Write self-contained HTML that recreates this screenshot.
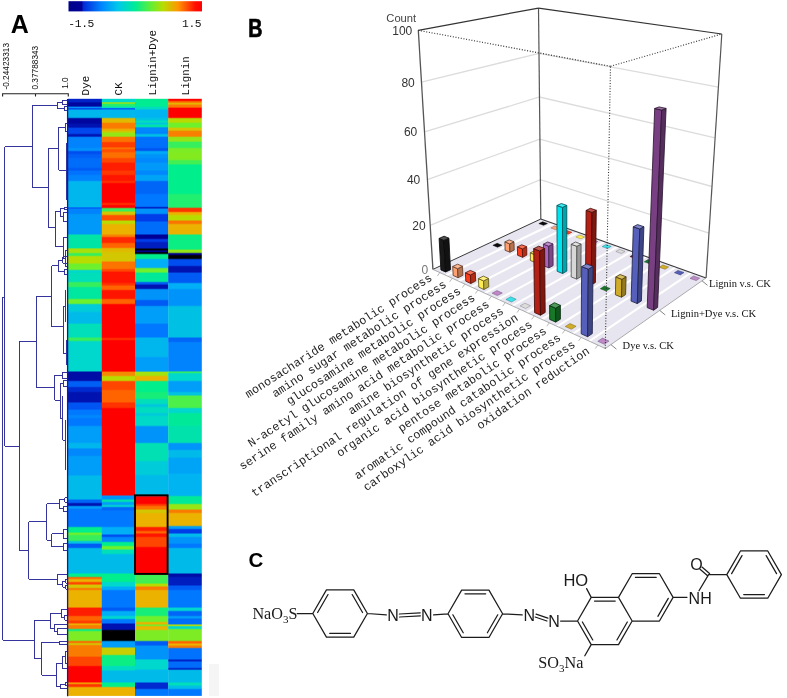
<!DOCTYPE html><html><head><meta charset="utf-8"><title>Figure</title><style>html,body{margin:0;padding:0;background:#fff}svg{display:block}</style></head><body><svg width="787" height="698" viewBox="0 0 787 698"><defs><linearGradient id="hg0" gradientUnits="userSpaceOnUse" x1="0" y1="98.8" x2="0" y2="695.9"><stop offset="0.00167" stop-color="#0024c7"/><stop offset="0.00452" stop-color="#0024c7"/><stop offset="0.00720" stop-color="#00069e"/><stop offset="0.01206" stop-color="#00069e"/><stop offset="0.01424" stop-color="#0094fa"/><stop offset="0.01457" stop-color="#0094fa"/><stop offset="0.01645" stop-color="#0048ed"/><stop offset="0.01687" stop-color="#0048ed"/><stop offset="0.01926" stop-color="#00b7ed"/><stop offset="0.03082" stop-color="#00b7ed"/><stop offset="0.03350" stop-color="#00069e"/><stop offset="0.04036" stop-color="#00069e"/><stop offset="0.04304" stop-color="#0012af"/><stop offset="0.04706" stop-color="#0012af"/><stop offset="0.04974" stop-color="#0048ed"/><stop offset="0.05761" stop-color="#0048ed"/><stop offset="0.06029" stop-color="#0015b3"/><stop offset="0.06230" stop-color="#0015b3"/><stop offset="0.06498" stop-color="#0083fd"/><stop offset="0.08106" stop-color="#0083fd"/><stop offset="0.08374" stop-color="#0094fa"/><stop offset="0.08608" stop-color="#0094fa"/><stop offset="0.08876" stop-color="#004eef"/><stop offset="0.09127" stop-color="#004eef"/><stop offset="0.09395" stop-color="#0060f6"/><stop offset="0.09781" stop-color="#0060f6"/><stop offset="0.10049" stop-color="#006cfa"/><stop offset="0.11455" stop-color="#006cfa"/><stop offset="0.11723" stop-color="#005af4"/><stop offset="0.11891" stop-color="#005af4"/><stop offset="0.12159" stop-color="#0072fd"/><stop offset="0.12628" stop-color="#0072fd"/><stop offset="0.12896" stop-color="#0083fd"/><stop offset="0.13633" stop-color="#0083fd"/><stop offset="0.13901" stop-color="#00b7ed"/><stop offset="0.18071" stop-color="#00b7ed"/><stop offset="0.18274" stop-color="#005af4"/><stop offset="0.18302" stop-color="#005af4"/><stop offset="0.18506" stop-color="#0083fd"/><stop offset="0.19159" stop-color="#0083fd"/><stop offset="0.19427" stop-color="#0099f9"/><stop offset="0.22593" stop-color="#0099f9"/><stop offset="0.22860" stop-color="#00e5a6"/><stop offset="0.24904" stop-color="#00e5a6"/><stop offset="0.25172" stop-color="#aae009"/><stop offset="0.25691" stop-color="#aae009"/><stop offset="0.25959" stop-color="#37ef5c"/><stop offset="0.26193" stop-color="#37ef5c"/><stop offset="0.26461" stop-color="#b9dc00"/><stop offset="0.27449" stop-color="#b9dc00"/><stop offset="0.27717" stop-color="#6ef02d"/><stop offset="0.28538" stop-color="#6ef02d"/><stop offset="0.28806" stop-color="#00d7cd"/><stop offset="0.28973" stop-color="#00d7cd"/><stop offset="0.29241" stop-color="#00deba"/><stop offset="0.30548" stop-color="#00deba"/><stop offset="0.30816" stop-color="#37ef5c"/><stop offset="0.31385" stop-color="#37ef5c"/><stop offset="0.31653" stop-color="#00e7a0"/><stop offset="0.33395" stop-color="#00e7a0"/><stop offset="0.33663" stop-color="#6ef02d"/><stop offset="0.34232" stop-color="#6ef02d"/><stop offset="0.34500" stop-color="#00cbd9"/><stop offset="0.35572" stop-color="#00cbd9"/><stop offset="0.35840" stop-color="#00bbe9"/><stop offset="0.37531" stop-color="#00bbe9"/><stop offset="0.37799" stop-color="#00deba"/><stop offset="0.39843" stop-color="#00deba"/><stop offset="0.40111" stop-color="#37ef5c"/><stop offset="0.40429" stop-color="#37ef5c"/><stop offset="0.40697" stop-color="#00d7cd"/><stop offset="0.45537" stop-color="#00d7cd"/><stop offset="0.45805" stop-color="#000ca6"/><stop offset="0.47128" stop-color="#000ca6"/><stop offset="0.47396" stop-color="#0060f6"/><stop offset="0.48133" stop-color="#0060f6"/><stop offset="0.48401" stop-color="#002acf"/><stop offset="0.48970" stop-color="#002acf"/><stop offset="0.49238" stop-color="#0012af"/><stop offset="0.50712" stop-color="#0012af"/><stop offset="0.50980" stop-color="#0054f1"/><stop offset="0.51934" stop-color="#0054f1"/><stop offset="0.52202" stop-color="#0078ff"/><stop offset="0.52822" stop-color="#0078ff"/><stop offset="0.53090" stop-color="#0088fc"/><stop offset="0.53324" stop-color="#0088fc"/><stop offset="0.53592" stop-color="#0078ff"/><stop offset="0.54664" stop-color="#0078ff"/><stop offset="0.54932" stop-color="#009ef8"/><stop offset="0.57511" stop-color="#009ef8"/><stop offset="0.57779" stop-color="#00b7ed"/><stop offset="0.58416" stop-color="#00b7ed"/><stop offset="0.58684" stop-color="#0088fc"/><stop offset="0.59688" stop-color="#0088fc"/><stop offset="0.59956" stop-color="#009ef8"/><stop offset="0.62954" stop-color="#009ef8"/><stop offset="0.63222" stop-color="#00bbe9"/><stop offset="0.66974" stop-color="#00bbe9"/><stop offset="0.67242" stop-color="#0066f8"/><stop offset="0.67560" stop-color="#0066f8"/><stop offset="0.67828" stop-color="#0012af"/><stop offset="0.68062" stop-color="#0012af"/><stop offset="0.68330" stop-color="#009ef8"/><stop offset="0.68514" stop-color="#009ef8"/><stop offset="0.68782" stop-color="#0078ff"/><stop offset="0.71579" stop-color="#0078ff"/><stop offset="0.71847" stop-color="#00ee8c"/><stop offset="0.72517" stop-color="#00ee8c"/><stop offset="0.72785" stop-color="#6ef02d"/><stop offset="0.72919" stop-color="#6ef02d"/><stop offset="0.73187" stop-color="#37ef5c"/><stop offset="0.73924" stop-color="#37ef5c"/><stop offset="0.74192" stop-color="#00c3e1"/><stop offset="0.74376" stop-color="#00c3e1"/><stop offset="0.74644" stop-color="#005af4"/><stop offset="0.75096" stop-color="#005af4"/><stop offset="0.75364" stop-color="#00bbe9"/><stop offset="0.79367" stop-color="#00bbe9"/><stop offset="0.79635" stop-color="#00ee8c"/><stop offset="0.79953" stop-color="#00ee8c"/><stop offset="0.80221" stop-color="#ff6400"/><stop offset="0.80288" stop-color="#ff6400"/><stop offset="0.80556" stop-color="#ebb200"/><stop offset="0.80790" stop-color="#ebb200"/><stop offset="0.81058" stop-color="#ff4600"/><stop offset="0.81226" stop-color="#ff4600"/><stop offset="0.81494" stop-color="#d2c700"/><stop offset="0.81795" stop-color="#d2c700"/><stop offset="0.82063" stop-color="#fb7400"/><stop offset="0.82130" stop-color="#fb7400"/><stop offset="0.82398" stop-color="#ebb200"/><stop offset="0.85078" stop-color="#ebb200"/><stop offset="0.85346" stop-color="#ff1e00"/><stop offset="0.86485" stop-color="#ff1e00"/><stop offset="0.86753" stop-color="#ff6400"/><stop offset="0.87238" stop-color="#ff6400"/><stop offset="0.87506" stop-color="#ff3c00"/><stop offset="0.87741" stop-color="#ff3c00"/><stop offset="0.87979" stop-color="#ebb200"/><stop offset="0.88021" stop-color="#ebb200"/><stop offset="0.88260" stop-color="#f97b00"/><stop offset="0.88662" stop-color="#f97b00"/><stop offset="0.88930" stop-color="#00ee8c"/><stop offset="0.88997" stop-color="#00ee8c"/><stop offset="0.89265" stop-color="#7dec24"/><stop offset="0.90672" stop-color="#7dec24"/><stop offset="0.90940" stop-color="#ff6400"/><stop offset="0.91007" stop-color="#ff6400"/><stop offset="0.91274" stop-color="#d2c700"/><stop offset="0.91341" stop-color="#d2c700"/><stop offset="0.91609" stop-color="#f97b00"/><stop offset="0.93301" stop-color="#f97b00"/><stop offset="0.93569" stop-color="#ff4600"/><stop offset="0.94858" stop-color="#ff4600"/><stop offset="0.95126" stop-color="#ff0000"/><stop offset="0.97622" stop-color="#ff0000"/><stop offset="0.97860" stop-color="#efa200"/><stop offset="0.97902" stop-color="#efa200"/><stop offset="0.98141" stop-color="#ff3200"/><stop offset="0.98375" stop-color="#ff3200"/><stop offset="0.98643" stop-color="#ebb200"/><stop offset="0.99933" stop-color="#ebb200"/></linearGradient><linearGradient id="hg1" gradientUnits="userSpaceOnUse" x1="0" y1="98.8" x2="0" y2="695.9"><stop offset="0.00167" stop-color="#00d7cd"/><stop offset="0.00452" stop-color="#00d7cd"/><stop offset="0.00684" stop-color="#a2e20d"/><stop offset="0.00723" stop-color="#a2e20d"/><stop offset="0.00955" stop-color="#21ef70"/><stop offset="0.01206" stop-color="#21ef70"/><stop offset="0.01424" stop-color="#00dcc0"/><stop offset="0.01457" stop-color="#00dcc0"/><stop offset="0.01645" stop-color="#005af4"/><stop offset="0.01687" stop-color="#005af4"/><stop offset="0.01926" stop-color="#00b7ed"/><stop offset="0.03082" stop-color="#00b7ed"/><stop offset="0.03350" stop-color="#e1ba00"/><stop offset="0.03885" stop-color="#e1ba00"/><stop offset="0.04153" stop-color="#f97b00"/><stop offset="0.04857" stop-color="#f97b00"/><stop offset="0.05125" stop-color="#edaa00"/><stop offset="0.05225" stop-color="#edaa00"/><stop offset="0.05485" stop-color="#cdcb00"/><stop offset="0.05535" stop-color="#cdcb00"/><stop offset="0.05795" stop-color="#94e616"/><stop offset="0.06230" stop-color="#94e616"/><stop offset="0.06498" stop-color="#fb7400"/><stop offset="0.07101" stop-color="#fb7400"/><stop offset="0.07369" stop-color="#ff3c00"/><stop offset="0.08022" stop-color="#ff3c00"/><stop offset="0.08261" stop-color="#fb7400"/><stop offset="0.08303" stop-color="#fb7400"/><stop offset="0.08541" stop-color="#ff5000"/><stop offset="0.08826" stop-color="#ff5000"/><stop offset="0.09094" stop-color="#fc7000"/><stop offset="0.09781" stop-color="#fc7000"/><stop offset="0.10049" stop-color="#ff4600"/><stop offset="0.10551" stop-color="#ff4600"/><stop offset="0.10819" stop-color="#ff1e00"/><stop offset="0.11891" stop-color="#ff1e00"/><stop offset="0.12159" stop-color="#ff3700"/><stop offset="0.12628" stop-color="#ff3700"/><stop offset="0.12896" stop-color="#ff1400"/><stop offset="0.13633" stop-color="#ff1400"/><stop offset="0.13901" stop-color="#ff3200"/><stop offset="0.13968" stop-color="#ff3200"/><stop offset="0.14235" stop-color="#ff0000"/><stop offset="0.17317" stop-color="#ff0000"/><stop offset="0.17585" stop-color="#ff3200"/><stop offset="0.17652" stop-color="#ff3200"/><stop offset="0.17920" stop-color="#ff0000"/><stop offset="0.18154" stop-color="#ff0000"/><stop offset="0.18422" stop-color="#37ef5c"/><stop offset="0.18741" stop-color="#37ef5c"/><stop offset="0.19009" stop-color="#d2c700"/><stop offset="0.19327" stop-color="#d2c700"/><stop offset="0.19595" stop-color="#ff5000"/><stop offset="0.20248" stop-color="#ff5000"/><stop offset="0.20516" stop-color="#b9dc00"/><stop offset="0.20834" stop-color="#b9dc00"/><stop offset="0.21102" stop-color="#ebb200"/><stop offset="0.22593" stop-color="#ebb200"/><stop offset="0.22860" stop-color="#f78300"/><stop offset="0.23011" stop-color="#f78300"/><stop offset="0.23279" stop-color="#ff2800"/><stop offset="0.24016" stop-color="#ff2800"/><stop offset="0.24284" stop-color="#ff6400"/><stop offset="0.24853" stop-color="#ff6400"/><stop offset="0.25121" stop-color="#e1ba00"/><stop offset="0.25523" stop-color="#e1ba00"/><stop offset="0.25791" stop-color="#d2c700"/><stop offset="0.27114" stop-color="#d2c700"/><stop offset="0.27382" stop-color="#fb7400"/><stop offset="0.28370" stop-color="#fb7400"/><stop offset="0.28638" stop-color="#ff4600"/><stop offset="0.28823" stop-color="#ff4600"/><stop offset="0.29091" stop-color="#ff1400"/><stop offset="0.30715" stop-color="#ff1400"/><stop offset="0.30983" stop-color="#ff3200"/><stop offset="0.31134" stop-color="#ff3200"/><stop offset="0.31402" stop-color="#ff6400"/><stop offset="0.31887" stop-color="#ff6400"/><stop offset="0.32155" stop-color="#ff1400"/><stop offset="0.33395" stop-color="#ff1400"/><stop offset="0.33663" stop-color="#ff6400"/><stop offset="0.34232" stop-color="#ff6400"/><stop offset="0.34500" stop-color="#ff0000"/><stop offset="0.39926" stop-color="#ff0000"/><stop offset="0.40194" stop-color="#ff3200"/><stop offset="0.40261" stop-color="#ff3200"/><stop offset="0.40529" stop-color="#ff0000"/><stop offset="0.45570" stop-color="#ff0000"/><stop offset="0.45838" stop-color="#f58b00"/><stop offset="0.46290" stop-color="#f58b00"/><stop offset="0.46558" stop-color="#b9dc00"/><stop offset="0.47128" stop-color="#b9dc00"/><stop offset="0.47396" stop-color="#ff4600"/><stop offset="0.48635" stop-color="#ff4600"/><stop offset="0.48903" stop-color="#ff6400"/><stop offset="0.50712" stop-color="#ff6400"/><stop offset="0.50980" stop-color="#ff3200"/><stop offset="0.51650" stop-color="#ff3200"/><stop offset="0.51918" stop-color="#ff0000"/><stop offset="0.66304" stop-color="#ff0000"/><stop offset="0.66572" stop-color="#0094fa"/><stop offset="0.66974" stop-color="#0094fa"/><stop offset="0.67242" stop-color="#00e2ac"/><stop offset="0.67392" stop-color="#00e2ac"/><stop offset="0.67660" stop-color="#009ef8"/><stop offset="0.67895" stop-color="#009ef8"/><stop offset="0.68163" stop-color="#00d7cd"/><stop offset="0.68230" stop-color="#00d7cd"/><stop offset="0.68498" stop-color="#0066f8"/><stop offset="0.68816" stop-color="#0066f8"/><stop offset="0.69084" stop-color="#0078ff"/><stop offset="0.71579" stop-color="#0078ff"/><stop offset="0.71847" stop-color="#00aff5"/><stop offset="0.72835" stop-color="#00aff5"/><stop offset="0.73103" stop-color="#004eef"/><stop offset="0.73254" stop-color="#004eef"/><stop offset="0.73522" stop-color="#0088fc"/><stop offset="0.74091" stop-color="#0088fc"/><stop offset="0.74359" stop-color="#00ee8c"/><stop offset="0.74761" stop-color="#00ee8c"/><stop offset="0.75029" stop-color="#6ef02d"/><stop offset="0.75364" stop-color="#6ef02d"/><stop offset="0.75632" stop-color="#00deba"/><stop offset="0.76101" stop-color="#00deba"/><stop offset="0.76369" stop-color="#00bbe9"/><stop offset="0.79367" stop-color="#00bbe9"/><stop offset="0.79635" stop-color="#00ee8c"/><stop offset="0.80790" stop-color="#00ee8c"/><stop offset="0.81058" stop-color="#00d7cd"/><stop offset="0.81544" stop-color="#00d7cd"/><stop offset="0.81812" stop-color="#00aff5"/><stop offset="0.82130" stop-color="#00aff5"/><stop offset="0.82398" stop-color="#0078ff"/><stop offset="0.85078" stop-color="#0078ff"/><stop offset="0.85346" stop-color="#005af4"/><stop offset="0.85647" stop-color="#005af4"/><stop offset="0.85915" stop-color="#00aff5"/><stop offset="0.86485" stop-color="#00aff5"/><stop offset="0.86753" stop-color="#00d7cd"/><stop offset="0.86987" stop-color="#00d7cd"/><stop offset="0.87255" stop-color="#0078ff"/><stop offset="0.87741" stop-color="#0078ff"/><stop offset="0.88009" stop-color="#0012af"/><stop offset="0.88829" stop-color="#0012af"/><stop offset="0.89097" stop-color="#000000"/><stop offset="0.90672" stop-color="#000000"/><stop offset="0.90940" stop-color="#009ef8"/><stop offset="0.91760" stop-color="#009ef8"/><stop offset="0.92028" stop-color="#c8cf00"/><stop offset="0.93016" stop-color="#c8cf00"/><stop offset="0.93284" stop-color="#0bee83"/><stop offset="0.94858" stop-color="#0bee83"/><stop offset="0.95126" stop-color="#00dcc0"/><stop offset="0.95612" stop-color="#00dcc0"/><stop offset="0.95880" stop-color="#00bbe9"/><stop offset="0.97622" stop-color="#00bbe9"/><stop offset="0.97890" stop-color="#00ee8c"/><stop offset="0.98375" stop-color="#00ee8c"/><stop offset="0.98643" stop-color="#ebb200"/><stop offset="0.99933" stop-color="#ebb200"/></linearGradient><linearGradient id="hg2" gradientUnits="userSpaceOnUse" x1="0" y1="98.8" x2="0" y2="695.9"><stop offset="0.00167" stop-color="#00ec92"/><stop offset="0.01206" stop-color="#00ec92"/><stop offset="0.01474" stop-color="#00dcc0"/><stop offset="0.01658" stop-color="#00dcc0"/><stop offset="0.01926" stop-color="#00b3f1"/><stop offset="0.03082" stop-color="#00b3f1"/><stop offset="0.03350" stop-color="#00c3e1"/><stop offset="0.03517" stop-color="#00c3e1"/><stop offset="0.03785" stop-color="#00deba"/><stop offset="0.03885" stop-color="#00deba"/><stop offset="0.04145" stop-color="#00c3e1"/><stop offset="0.04195" stop-color="#00c3e1"/><stop offset="0.04455" stop-color="#00e5a6"/><stop offset="0.04622" stop-color="#00e5a6"/><stop offset="0.04890" stop-color="#0088fc"/><stop offset="0.05376" stop-color="#0088fc"/><stop offset="0.05644" stop-color="#0083fd"/><stop offset="0.05761" stop-color="#0083fd"/><stop offset="0.06029" stop-color="#00bfe5"/><stop offset="0.06230" stop-color="#00bfe5"/><stop offset="0.06498" stop-color="#006ffc"/><stop offset="0.08106" stop-color="#006ffc"/><stop offset="0.08374" stop-color="#0054f1"/><stop offset="0.08608" stop-color="#0054f1"/><stop offset="0.08876" stop-color="#00aaf6"/><stop offset="0.09111" stop-color="#00aaf6"/><stop offset="0.09379" stop-color="#0094fa"/><stop offset="0.09781" stop-color="#0094fa"/><stop offset="0.10049" stop-color="#0088fc"/><stop offset="0.10551" stop-color="#0088fc"/><stop offset="0.10819" stop-color="#0099f9"/><stop offset="0.11891" stop-color="#0099f9"/><stop offset="0.12159" stop-color="#0088fc"/><stop offset="0.12628" stop-color="#0088fc"/><stop offset="0.12896" stop-color="#00a4f7"/><stop offset="0.13633" stop-color="#00a4f7"/><stop offset="0.13901" stop-color="#0066f8"/><stop offset="0.15810" stop-color="#0066f8"/><stop offset="0.16078" stop-color="#0078ff"/><stop offset="0.17987" stop-color="#0078ff"/><stop offset="0.18226" stop-color="#001ebf"/><stop offset="0.18267" stop-color="#001ebf"/><stop offset="0.18506" stop-color="#0094fa"/><stop offset="0.19159" stop-color="#0094fa"/><stop offset="0.19427" stop-color="#003ce8"/><stop offset="0.20415" stop-color="#003ce8"/><stop offset="0.20683" stop-color="#006cfa"/><stop offset="0.22593" stop-color="#006cfa"/><stop offset="0.22860" stop-color="#000096"/><stop offset="0.23346" stop-color="#000096"/><stop offset="0.23614" stop-color="#003ce8"/><stop offset="0.23849" stop-color="#003ce8"/><stop offset="0.24117" stop-color="#001ebf"/><stop offset="0.24937" stop-color="#001ebf"/><stop offset="0.25205" stop-color="#000000"/><stop offset="0.25272" stop-color="#000000"/><stop offset="0.25511" stop-color="#000096"/><stop offset="0.25553" stop-color="#000096"/><stop offset="0.25791" stop-color="#000000"/><stop offset="0.25858" stop-color="#000000"/><stop offset="0.26126" stop-color="#00ee8c"/><stop offset="0.26696" stop-color="#00ee8c"/><stop offset="0.26964" stop-color="#00aff5"/><stop offset="0.28203" stop-color="#00aff5"/><stop offset="0.28471" stop-color="#6ef02d"/><stop offset="0.28973" stop-color="#6ef02d"/><stop offset="0.29241" stop-color="#00e999"/><stop offset="0.30548" stop-color="#00e999"/><stop offset="0.30816" stop-color="#005af4"/><stop offset="0.30983" stop-color="#005af4"/><stop offset="0.31251" stop-color="#0012af"/><stop offset="0.31720" stop-color="#0012af"/><stop offset="0.31988" stop-color="#0094fa"/><stop offset="0.33562" stop-color="#0094fa"/><stop offset="0.33830" stop-color="#005af4"/><stop offset="0.34567" stop-color="#005af4"/><stop offset="0.34835" stop-color="#009ef8"/><stop offset="0.37531" stop-color="#009ef8"/><stop offset="0.37799" stop-color="#0078ff"/><stop offset="0.39843" stop-color="#0078ff"/><stop offset="0.40111" stop-color="#00b7ed"/><stop offset="0.43108" stop-color="#00b7ed"/><stop offset="0.43376" stop-color="#009ef8"/><stop offset="0.45570" stop-color="#009ef8"/><stop offset="0.45838" stop-color="#a2e20d"/><stop offset="0.46290" stop-color="#a2e20d"/><stop offset="0.46558" stop-color="#ebb200"/><stop offset="0.47128" stop-color="#ebb200"/><stop offset="0.47396" stop-color="#00ee8c"/><stop offset="0.48970" stop-color="#00ee8c"/><stop offset="0.49238" stop-color="#16ee79"/><stop offset="0.50142" stop-color="#16ee79"/><stop offset="0.50410" stop-color="#00deba"/><stop offset="0.50980" stop-color="#00deba"/><stop offset="0.51248" stop-color="#00c7dd"/><stop offset="0.51482" stop-color="#00c7dd"/><stop offset="0.51750" stop-color="#00dcc0"/><stop offset="0.52487" stop-color="#00dcc0"/><stop offset="0.52755" stop-color="#00cbd9"/><stop offset="0.52989" stop-color="#00cbd9"/><stop offset="0.53257" stop-color="#00d9c7"/><stop offset="0.54664" stop-color="#00d9c7"/><stop offset="0.54932" stop-color="#0094fa"/><stop offset="0.57511" stop-color="#0094fa"/><stop offset="0.57779" stop-color="#00e0b3"/><stop offset="0.60526" stop-color="#00e0b3"/><stop offset="0.60794" stop-color="#00cbd9"/><stop offset="0.62871" stop-color="#00cbd9"/><stop offset="0.63139" stop-color="#00bbe9"/><stop offset="0.66388" stop-color="#00bbe9"/><stop offset="0.66656" stop-color="#ff0000"/><stop offset="0.67727" stop-color="#ff0000"/><stop offset="0.67995" stop-color="#ff3c00"/><stop offset="0.68062" stop-color="#ff3c00"/><stop offset="0.68330" stop-color="#fb7400"/><stop offset="0.68665" stop-color="#fb7400"/><stop offset="0.68933" stop-color="#d2c700"/><stop offset="0.69235" stop-color="#d2c700"/><stop offset="0.69503" stop-color="#ebb200"/><stop offset="0.71579" stop-color="#ebb200"/><stop offset="0.71847" stop-color="#ff1e00"/><stop offset="0.72249" stop-color="#ff1e00"/><stop offset="0.72517" stop-color="#ff6400"/><stop offset="0.72668" stop-color="#ff6400"/><stop offset="0.72936" stop-color="#ff1400"/><stop offset="0.73254" stop-color="#ff1400"/><stop offset="0.73522" stop-color="#ff4600"/><stop offset="0.74929" stop-color="#ff4600"/><stop offset="0.75197" stop-color="#ff0000"/><stop offset="0.79534" stop-color="#ff0000"/><stop offset="0.79802" stop-color="#42ef53"/><stop offset="0.81075" stop-color="#42ef53"/><stop offset="0.81343" stop-color="#b9dc00"/><stop offset="0.81544" stop-color="#b9dc00"/><stop offset="0.81812" stop-color="#f97b00"/><stop offset="0.82130" stop-color="#f97b00"/><stop offset="0.82398" stop-color="#ebb200"/><stop offset="0.85078" stop-color="#ebb200"/><stop offset="0.85346" stop-color="#16ee79"/><stop offset="0.86485" stop-color="#16ee79"/><stop offset="0.86753" stop-color="#6ef02d"/><stop offset="0.87490" stop-color="#6ef02d"/><stop offset="0.87757" stop-color="#ebb200"/><stop offset="0.87908" stop-color="#ebb200"/><stop offset="0.88147" stop-color="#6ef02d"/><stop offset="0.88189" stop-color="#6ef02d"/><stop offset="0.88427" stop-color="#ebb200"/><stop offset="0.88829" stop-color="#ebb200"/><stop offset="0.89097" stop-color="#7dec24"/><stop offset="0.90672" stop-color="#7dec24"/><stop offset="0.90940" stop-color="#005af4"/><stop offset="0.91442" stop-color="#005af4"/><stop offset="0.91710" stop-color="#0094fa"/><stop offset="0.93753" stop-color="#0094fa"/><stop offset="0.94021" stop-color="#00d7cd"/><stop offset="0.95461" stop-color="#00d7cd"/><stop offset="0.95729" stop-color="#00bbe9"/><stop offset="0.97622" stop-color="#00bbe9"/><stop offset="0.97890" stop-color="#002acf"/><stop offset="0.98710" stop-color="#002acf"/><stop offset="0.98978" stop-color="#0078ff"/><stop offset="0.99933" stop-color="#0078ff"/></linearGradient><linearGradient id="hg3" gradientUnits="userSpaceOnUse" x1="0" y1="98.8" x2="0" y2="695.9"><stop offset="0.00167" stop-color="#ff0000"/><stop offset="0.00234" stop-color="#ff0000"/><stop offset="0.00494" stop-color="#fd6c00"/><stop offset="0.00544" stop-color="#fd6c00"/><stop offset="0.00796" stop-color="#e6b600"/><stop offset="0.00846" stop-color="#e6b600"/><stop offset="0.01105" stop-color="#f97b00"/><stop offset="0.01357" stop-color="#f97b00"/><stop offset="0.01625" stop-color="#ff0000"/><stop offset="0.03082" stop-color="#ff0000"/><stop offset="0.03350" stop-color="#b9dc00"/><stop offset="0.03885" stop-color="#b9dc00"/><stop offset="0.04153" stop-color="#6ef02d"/><stop offset="0.04706" stop-color="#6ef02d"/><stop offset="0.04974" stop-color="#d2c700"/><stop offset="0.05225" stop-color="#d2c700"/><stop offset="0.05493" stop-color="#f87f00"/><stop offset="0.06230" stop-color="#f87f00"/><stop offset="0.06498" stop-color="#94e616"/><stop offset="0.07051" stop-color="#94e616"/><stop offset="0.07319" stop-color="#37ef5c"/><stop offset="0.08106" stop-color="#37ef5c"/><stop offset="0.08374" stop-color="#7dec24"/><stop offset="0.08910" stop-color="#7dec24"/><stop offset="0.09178" stop-color="#84ea20"/><stop offset="0.10116" stop-color="#84ea20"/><stop offset="0.10384" stop-color="#42ef53"/><stop offset="0.10852" stop-color="#42ef53"/><stop offset="0.11120" stop-color="#00ee8c"/><stop offset="0.15810" stop-color="#00ee8c"/><stop offset="0.16078" stop-color="#21ef70"/><stop offset="0.18121" stop-color="#21ef70"/><stop offset="0.18389" stop-color="#ff3200"/><stop offset="0.18824" stop-color="#ff3200"/><stop offset="0.19092" stop-color="#ebb200"/><stop offset="0.19327" stop-color="#ebb200"/><stop offset="0.19595" stop-color="#b9dc00"/><stop offset="0.20248" stop-color="#b9dc00"/><stop offset="0.20516" stop-color="#fb7400"/><stop offset="0.20834" stop-color="#fb7400"/><stop offset="0.21102" stop-color="#ebb200"/><stop offset="0.22593" stop-color="#ebb200"/><stop offset="0.22860" stop-color="#0bee83"/><stop offset="0.25121" stop-color="#0bee83"/><stop offset="0.25389" stop-color="#94e616"/><stop offset="0.25691" stop-color="#94e616"/><stop offset="0.25959" stop-color="#000096"/><stop offset="0.26026" stop-color="#000096"/><stop offset="0.26294" stop-color="#000000"/><stop offset="0.26696" stop-color="#000000"/><stop offset="0.26964" stop-color="#004eef"/><stop offset="0.27868" stop-color="#004eef"/><stop offset="0.28136" stop-color="#0012af"/><stop offset="0.28973" stop-color="#0012af"/><stop offset="0.29241" stop-color="#005af4"/><stop offset="0.30715" stop-color="#005af4"/><stop offset="0.30983" stop-color="#00aff5"/><stop offset="0.31720" stop-color="#00aff5"/><stop offset="0.31988" stop-color="#0094fa"/><stop offset="0.34567" stop-color="#0094fa"/><stop offset="0.34835" stop-color="#00c1e3"/><stop offset="0.39843" stop-color="#00c1e3"/><stop offset="0.40111" stop-color="#0066f8"/><stop offset="0.40596" stop-color="#0066f8"/><stop offset="0.40864" stop-color="#0083fd"/><stop offset="0.45537" stop-color="#0083fd"/><stop offset="0.45775" stop-color="#37ef5c"/><stop offset="0.45817" stop-color="#37ef5c"/><stop offset="0.46056" stop-color="#00d7cd"/><stop offset="0.47128" stop-color="#00d7cd"/><stop offset="0.47396" stop-color="#009ef8"/><stop offset="0.48970" stop-color="#009ef8"/><stop offset="0.49238" stop-color="#00c3e1"/><stop offset="0.49556" stop-color="#00c3e1"/><stop offset="0.49824" stop-color="#4def49"/><stop offset="0.51650" stop-color="#4def49"/><stop offset="0.51918" stop-color="#00d7cd"/><stop offset="0.52487" stop-color="#00d7cd"/><stop offset="0.52755" stop-color="#00e999"/><stop offset="0.54664" stop-color="#00e999"/><stop offset="0.54932" stop-color="#00e2ac"/><stop offset="0.57511" stop-color="#00e2ac"/><stop offset="0.57779" stop-color="#0094fa"/><stop offset="0.58684" stop-color="#0094fa"/><stop offset="0.58952" stop-color="#00bbe9"/><stop offset="0.59956" stop-color="#00bbe9"/><stop offset="0.60224" stop-color="#00a4f7"/><stop offset="0.62653" stop-color="#00a4f7"/><stop offset="0.62921" stop-color="#00b3f1"/><stop offset="0.66388" stop-color="#00b3f1"/><stop offset="0.66656" stop-color="#00e999"/><stop offset="0.67727" stop-color="#00e999"/><stop offset="0.67995" stop-color="#94e616"/><stop offset="0.68665" stop-color="#94e616"/><stop offset="0.68933" stop-color="#f97b00"/><stop offset="0.69235" stop-color="#f97b00"/><stop offset="0.69503" stop-color="#ebb200"/><stop offset="0.71412" stop-color="#ebb200"/><stop offset="0.71680" stop-color="#009ef8"/><stop offset="0.71914" stop-color="#009ef8"/><stop offset="0.72182" stop-color="#003ce8"/><stop offset="0.72668" stop-color="#003ce8"/><stop offset="0.72936" stop-color="#00bbe9"/><stop offset="0.73254" stop-color="#00bbe9"/><stop offset="0.73522" stop-color="#0094fa"/><stop offset="0.74376" stop-color="#0094fa"/><stop offset="0.74644" stop-color="#0078ff"/><stop offset="0.75096" stop-color="#0078ff"/><stop offset="0.75364" stop-color="#00bbe9"/><stop offset="0.79367" stop-color="#00bbe9"/><stop offset="0.79635" stop-color="#000ca6"/><stop offset="0.79953" stop-color="#000ca6"/><stop offset="0.80221" stop-color="#001ebf"/><stop offset="0.81377" stop-color="#001ebf"/><stop offset="0.81645" stop-color="#005af4"/><stop offset="0.82130" stop-color="#005af4"/><stop offset="0.82398" stop-color="#0078ff"/><stop offset="0.85078" stop-color="#0078ff"/><stop offset="0.85346" stop-color="#00d7cd"/><stop offset="0.85647" stop-color="#00d7cd"/><stop offset="0.85915" stop-color="#0066f8"/><stop offset="0.86485" stop-color="#0066f8"/><stop offset="0.86753" stop-color="#009ef8"/><stop offset="0.86903" stop-color="#009ef8"/><stop offset="0.87171" stop-color="#006cfa"/><stop offset="0.87908" stop-color="#006cfa"/><stop offset="0.88147" stop-color="#b9dc00"/><stop offset="0.88189" stop-color="#b9dc00"/><stop offset="0.88427" stop-color="#00d7cd"/><stop offset="0.88662" stop-color="#00d7cd"/><stop offset="0.88930" stop-color="#7dec24"/><stop offset="0.90672" stop-color="#7dec24"/><stop offset="0.90940" stop-color="#ff6400"/><stop offset="0.91090" stop-color="#ff6400"/><stop offset="0.91358" stop-color="#ebb200"/><stop offset="0.91442" stop-color="#ebb200"/><stop offset="0.91710" stop-color="#f97b00"/><stop offset="0.91844" stop-color="#f97b00"/><stop offset="0.92112" stop-color="#0072fd"/><stop offset="0.93753" stop-color="#0072fd"/><stop offset="0.94021" stop-color="#0024c7"/><stop offset="0.94105" stop-color="#0024c7"/><stop offset="0.94373" stop-color="#006cfa"/><stop offset="0.95193" stop-color="#006cfa"/><stop offset="0.95453" stop-color="#0024c7"/><stop offset="0.95503" stop-color="#0024c7"/><stop offset="0.95763" stop-color="#00bbe9"/><stop offset="0.97622" stop-color="#00bbe9"/><stop offset="0.97890" stop-color="#00deba"/><stop offset="0.98124" stop-color="#00deba"/><stop offset="0.98392" stop-color="#00bfe5"/><stop offset="0.98710" stop-color="#00bfe5"/><stop offset="0.98978" stop-color="#0078ff"/><stop offset="0.99933" stop-color="#0078ff"/></linearGradient><linearGradient id="cbar" x1="0" y1="0" x2="1" y2="0"><stop offset="0.000" stop-color="#00008c"/><stop offset="0.100" stop-color="#000096"/><stop offset="0.110" stop-color="#0028d7"/><stop offset="0.250" stop-color="#0087ff"/><stop offset="0.370" stop-color="#00c8eb"/><stop offset="0.500" stop-color="#00ec96"/><stop offset="0.620" stop-color="#64ee32"/><stop offset="0.710" stop-color="#b9dc00"/><stop offset="0.820" stop-color="#ff9600"/><stop offset="0.950" stop-color="#ff0f00"/><stop offset="1.000" stop-color="#ff0000"/></linearGradient></defs><rect x="67.70" y="98.80" width="34.40" height="597.10" fill="url(#hg0)"/>
<rect x="101.80" y="98.80" width="33.50" height="597.10" fill="url(#hg1)"/>
<rect x="135.00" y="98.80" width="33.50" height="597.10" fill="url(#hg2)"/>
<rect x="168.20" y="98.80" width="33.60" height="597.10" fill="url(#hg3)"/>
<rect x="135.0" y="495.3" width="32.6" height="78.6" fill="none" stroke="#000" stroke-width="1.9"/>
<rect x="68.5" y="1.2" width="133.5" height="10.2" fill="url(#cbar)"/>
<rect x="209" y="664" width="10" height="32" fill="#f5f5f5"/>
<path d="M2.6 297.0H4.9M4.9 146.5H32.0M32.0 105.3H57.0M57.0 102.4H62.0M62.0 100.5H67.7M62.0 104.5H67.7M57.0 108.0H64.0M64.0 106.5H67.7M64.0 110.0H67.7M32.0 187.5H48.0M48.0 148.0H58.5M58.5 127.0H65.0M65.0 123.0H67.7M65.0 131.5H67.7M58.5 170.0H66.0M48.0 227.6H55.0M55.0 211.0H60.0M60.0 208.5H64.0M64.0 207.5H67.7M64.0 209.5H67.7M60.0 216.0H63.0M63.0 212.0H67.7M63.0 221.0H67.7M55.0 246.0H63.0M63.0 237.5H67.7M63.0 258.0H65.0M65.0 250.0H67.7M65.0 266.0H67.7M4.9 446.4H19.2M19.2 341.7H36.0M36.0 296.4H51.6M51.6 265.8H58.0M58.0 260.0H62.5M62.5 256.5H67.7M62.5 263.0H67.7M58.0 271.5H64.0M64.0 269.0H67.7M64.0 274.0H67.7M51.6 326.5H63.0M63.0 306.0H65.0M63.0 353.0H66.0M36.0 387.6H54.7M54.7 375.0H62.0M62.0 375.0H62.0M62.0 372.5H67.7M62.0 378.5H67.7M54.7 400.0H60.0M60.0 383.0H63.0M63.0 380.5H67.7M63.0 386.0H67.7M60.0 418.0H62.5M62.5 440.0H65.5M19.2 550.4H28.7M28.7 521.7H46.7M46.7 503.7H59.0M59.0 499.7H64.5M64.5 497.5H67.7M64.5 502.0H67.7M59.0 508.0H63.0M63.0 506.0H67.7M63.0 511.0H67.7M46.7 540.3H51.6M51.6 533.8H63.0M63.0 529.0H67.7M63.0 538.0H67.7M51.6 546.6H63.0M63.0 543.0H67.7M63.0 550.0H67.7M28.7 579.0H57.3M57.3 574.7H67.7M57.3 584.0H62.5M62.5 581.0H65.5M65.5 579.0H67.7M65.5 583.0H67.7M62.5 587.0H65.5M65.5 585.0H67.7M65.5 589.0H67.7M2.6 640.0H34.0M34.0 620.3H50.0M50.0 613.8H61.0M61.0 609.4H67.7M61.0 617.0H64.5M64.5 615.0H67.7M64.5 620.0H67.7M50.0 628.0H54.0M54.0 624.8H67.7M54.0 631.0H57.3M57.3 631.0H57.3M57.3 628.2H67.7M57.3 634.0H67.7M34.0 658.2H41.5M41.5 642.0H59.0M59.0 642.0H59.0M59.0 641.0H67.7M59.0 644.0H67.7M41.5 675.0H56.0M56.0 663.0H62.0M62.0 656.8H65.0M65.0 651.0H67.7M65.0 663.0H67.7M62.0 668.7H67.7M56.0 686.5H60.5M60.5 684.0H65.0M65.0 682.5H67.7M65.0 685.5H67.7M60.5 688.5H67.7M2.6 297.0V640.0M4.9 146.5V446.4M32.0 105.3V187.5M57.0 102.4V108.0M62.0 100.5V104.5M64.0 106.5V110.0M48.0 148.0V227.6M58.5 127.0V170.0M65.0 123.0V131.5M66.0 143.0V200.0M55.0 211.0V246.0M60.0 208.5V216.0M64.0 207.5V209.5M63.0 212.0V221.0M63.0 237.5V258.0M65.0 250.0V266.0M19.2 341.7V550.4M36.0 296.4V387.6M51.6 265.8V326.5M58.0 260.0V271.5M62.5 256.5V263.0M64.0 269.0V274.0M63.0 306.0V353.0M65.0 290.0V322.0M66.0 340.0V365.0M54.7 375.0V400.0M62.0 372.5V378.5M60.0 383.0V418.0M63.0 380.5V386.0M62.5 396.0V440.0M65.5 420.0V470.0M28.7 521.7V579.0M46.7 503.7V540.3M59.0 499.7V508.0M64.5 497.5V502.0M63.0 506.0V511.0M51.6 533.8V546.6M63.0 529.0V538.0M63.0 543.0V550.0M57.3 574.7V584.0M62.5 581.0V587.0M65.5 579.0V583.0M65.5 585.0V589.0M34.0 620.3V658.2M50.0 613.8V628.0M61.0 609.4V617.0M64.5 615.0V620.0M54.0 624.8V631.0M57.3 628.2V634.0M41.5 642.0V675.0M59.0 641.0V644.0M56.0 663.0V686.5M62.0 656.8V668.7M65.0 651.0V663.0M60.5 684.0V688.5M65.0 682.5V685.5" fill="none" stroke="#34349c" stroke-width="1" shape-rendering="crispEdges"/>
<path d="M67.6 99V696.3" stroke="#1a1a8c" stroke-width="1.3" fill="none"/>
<path d="M2.6 96.6V93.8H68.3V96.6M35.5 93.8V96.6" fill="none" stroke="#222" stroke-width="1.1"/>
<polygon points="432.9,269.4 540.8,219.0 706.1,277.9 605.3,348.5" fill="#e7e5ef"/>
<line x1="446.0" y1="275.4" x2="553.7" y2="223.5" stroke="#fff" stroke-width="2.1"/>
<line x1="458.5" y1="281.1" x2="565.9" y2="227.9" stroke="#fff" stroke-width="2.1"/>
<line x1="471.3" y1="287.1" x2="578.4" y2="232.4" stroke="#fff" stroke-width="2.1"/>
<line x1="484.6" y1="293.1" x2="591.3" y2="237.0" stroke="#fff" stroke-width="2.1"/>
<line x1="498.2" y1="299.4" x2="604.4" y2="241.7" stroke="#fff" stroke-width="2.1"/>
<line x1="512.3" y1="305.8" x2="618.0" y2="246.5" stroke="#fff" stroke-width="2.1"/>
<line x1="526.7" y1="312.5" x2="631.8" y2="251.4" stroke="#fff" stroke-width="2.1"/>
<line x1="541.7" y1="319.3" x2="646.1" y2="256.5" stroke="#fff" stroke-width="2.1"/>
<line x1="557.1" y1="326.4" x2="660.7" y2="261.7" stroke="#fff" stroke-width="2.1"/>
<line x1="573.0" y1="333.7" x2="675.7" y2="267.1" stroke="#fff" stroke-width="2.1"/>
<line x1="589.4" y1="341.2" x2="691.2" y2="272.6" stroke="#fff" stroke-width="2.1"/>
<polyline points="430.2,225.4 540.4,179.7 709.0,233.2" fill="none" stroke="#dcdcdc" stroke-width="1.3"/>
<polyline points="427.4,179.6 539.9,139.1 712.0,186.5" fill="none" stroke="#dcdcdc" stroke-width="1.3"/>
<polyline points="424.5,131.9 539.5,97.0 715.1,137.8" fill="none" stroke="#dcdcdc" stroke-width="1.3"/>
<polyline points="421.5,82.2 539.0,53.4 718.4,87.1" fill="none" stroke="#dcdcdc" stroke-width="1.3"/>
<line x1="432.9" y1="269.4" x2="418.3" y2="30.3" stroke="#555" stroke-width="1.3"/>
<line x1="540.8" y1="219.0" x2="538.5" y2="8.1" stroke="#555" stroke-width="1.2"/>
<line x1="706.1" y1="277.9" x2="721.8" y2="34.0" stroke="#555" stroke-width="1.2"/>
<line x1="418.3" y1="30.3" x2="538.5" y2="8.1" stroke="#333" stroke-width="1.2"/>
<line x1="538.5" y1="8.1" x2="721.8" y2="34.0" stroke="#333" stroke-width="1.2"/>
<line x1="432.9" y1="269.4" x2="540.8" y2="219.0" stroke="#3a3a3a" stroke-width="1.0"/>
<line x1="540.8" y1="219.0" x2="706.1" y2="277.9" stroke="#3a3a3a" stroke-width="1.1"/>
<line x1="432.9" y1="269.4" x2="605.3" y2="348.5" stroke="#999" stroke-width="0.8"/>
<line x1="605.3" y1="348.5" x2="706.1" y2="277.9" stroke="#999" stroke-width="0.8"/>
<line x1="418.3" y1="30.3" x2="610.5" y2="66.3" stroke="#333" stroke-width="1.2" stroke-dasharray="1 1.7"/>
<line x1="610.5" y1="66.3" x2="721.8" y2="34.0" stroke="#333" stroke-width="1.2" stroke-dasharray="1 1.7"/>
<polygon points="538.9,223.6 543.5,225.3 547.4,223.5 542.7,221.8" fill="#0a0a0a" stroke="#060606" stroke-width="0.5"/>
<polygon points="550.9,228.0 555.7,229.7 559.5,227.9 554.7,226.1" fill="#ffa578" stroke="#996348" stroke-width="0.5"/>
<polygon points="563.3,232.5 568.2,234.2 571.9,232.3 567.1,230.6" fill="#fa3e1e" stroke="#962512" stroke-width="0.5"/>
<polygon points="575.9,237.0 581.0,238.9 584.7,236.9 579.7,235.1" fill="#ffec55" stroke="#998d33" stroke-width="0.5"/>
<polygon points="588.9,241.7 594.1,243.6 597.8,241.6 592.7,239.8" fill="#be87c8" stroke="#725178" stroke-width="0.5"/>
<polygon points="602.2,246.6 607.5,248.5 611.2,246.4 606.0,244.5" fill="#3ce1eb" stroke="#24878d" stroke-width="0.5"/>
<polygon points="615.9,251.5 621.3,253.5 625.0,251.4 619.6,249.4" fill="#dcdcdc" stroke="#848484" stroke-width="0.5"/>
<polygon points="629.9,256.6 635.5,258.6 639.2,256.5 633.6,254.5" fill="#781414" stroke="#480c0c" stroke-width="0.5"/>
<polygon points="644.3,261.8 650.1,263.9 653.7,261.7 648.0,259.6" fill="#167828" stroke="#0d4818" stroke-width="0.5"/>
<polygon points="659.2,267.2 665.0,269.3 668.6,267.0 662.8,264.9" fill="#d0ac2a" stroke="#7c6719" stroke-width="0.5"/>
<polygon points="674.4,272.7 680.4,274.9 684.0,272.5 677.9,270.4" fill="#5660ba" stroke="#33396f" stroke-width="0.5"/>
<polygon points="690.0,278.4 696.2,280.6 699.7,278.2 693.5,276.0" fill="#bc8ac6" stroke="#705276" stroke-width="0.5"/>
<polygon points="492.9,245.3 497.6,247.2 501.9,245.2 497.2,243.3" fill="#0a0a0a" stroke="#060606" stroke-width="0.5"/>
<polygon points="505.1,250.3 509.9,252.2 509.7,243.9 504.9,241.9" fill="#ffa070" stroke="#603c2a" stroke-width="0.85" stroke-linejoin="round"/>
<polygon points="509.9,252.2 514.2,250.1 514.0,241.8 509.7,243.9" fill="#b77350" stroke="#603c2a" stroke-width="0.85" stroke-linejoin="round"/>
<polygon points="504.9,241.9 509.7,243.9 514.0,241.8 509.2,239.9" fill="#ffb793" stroke="#603c2a" stroke-width="0.85" stroke-linejoin="round"/>
<polygon points="517.6,255.3 522.6,257.3 522.4,248.9 517.4,246.9" fill="#fa3e1e" stroke="#5f170b" stroke-width="0.85" stroke-linejoin="round"/>
<polygon points="522.6,257.3 526.8,255.1 526.7,246.7 522.4,248.9" fill="#b42c15" stroke="#5f170b" stroke-width="0.85" stroke-linejoin="round"/>
<polygon points="517.4,246.9 522.4,248.9 526.7,246.7 521.7,244.8" fill="#fb6e56" stroke="#5f170b" stroke-width="0.85" stroke-linejoin="round"/>
<polygon points="530.4,260.5 535.5,262.5 535.4,254.9 530.3,252.8" fill="#ffec55" stroke="#605920" stroke-width="0.85" stroke-linejoin="round"/>
<polygon points="535.5,262.5 539.8,260.3 539.7,252.7 535.4,254.9" fill="#b7a93d" stroke="#605920" stroke-width="0.85" stroke-linejoin="round"/>
<polygon points="530.3,252.8 535.4,254.9 539.7,252.7 534.6,250.7" fill="#fff07f" stroke="#605920" stroke-width="0.85" stroke-linejoin="round"/>
<polygon points="543.6,265.8 548.9,267.9 548.7,246.2 543.4,244.2" fill="#ac64be" stroke="#412648" stroke-width="0.85" stroke-linejoin="round"/>
<polygon points="548.9,267.9 553.1,265.6 553.0,244.0 548.7,246.2" fill="#7b4888" stroke="#412648" stroke-width="0.85" stroke-linejoin="round"/>
<polygon points="543.4,244.2 548.7,246.2 553.0,244.0 547.7,242.0" fill="#c08ace" stroke="#412648" stroke-width="0.85" stroke-linejoin="round"/>
<polygon points="557.2,271.3 562.6,273.5 562.5,207.4 556.9,205.5" fill="#00e4f0" stroke="#00565b" stroke-width="0.85" stroke-linejoin="round"/>
<polygon points="562.6,273.5 566.8,271.1 566.8,205.4 562.5,207.4" fill="#00a4ac" stroke="#00565b" stroke-width="0.85" stroke-linejoin="round"/>
<polygon points="556.9,205.5 562.5,207.4 566.8,205.4 561.3,203.5" fill="#3feaf3" stroke="#00565b" stroke-width="0.85" stroke-linejoin="round"/>
<polygon points="571.2,276.9 576.7,279.1 576.9,246.3 571.2,244.3" fill="#d7d7d7" stroke="#515151" stroke-width="0.85" stroke-linejoin="round"/>
<polygon points="576.7,279.1 580.9,276.7 581.1,244.1 576.9,246.3" fill="#9a9a9a" stroke="#515151" stroke-width="0.85" stroke-linejoin="round"/>
<polygon points="571.2,244.3 576.9,246.3 581.1,244.1 575.5,242.0" fill="#e1e1e1" stroke="#515151" stroke-width="0.85" stroke-linejoin="round"/>
<polygon points="585.5,282.7 591.2,285.0 592.0,212.4 586.1,210.4" fill="#b22016" stroke="#430c08" stroke-width="0.85" stroke-linejoin="round"/>
<polygon points="591.2,285.0 595.4,282.5 596.3,210.3 592.0,212.4" fill="#80170f" stroke="#430c08" stroke-width="0.85" stroke-linejoin="round"/>
<polygon points="586.1,210.4 592.0,212.4 596.3,210.3 590.4,208.3" fill="#c55750" stroke="#430c08" stroke-width="0.85" stroke-linejoin="round"/>
<polygon points="600.3,288.7 606.1,291.0 610.2,288.5 604.4,286.1" fill="#167828" stroke="#0d4818" stroke-width="0.5"/>
<polygon points="615.4,294.8 621.5,297.2 621.9,279.3 615.8,277.0" fill="#d0ac2a" stroke="#4f410f" stroke-width="0.85" stroke-linejoin="round"/>
<polygon points="621.5,297.2 625.6,294.6 626.1,276.8 621.9,279.3" fill="#957b1e" stroke="#4f410f" stroke-width="0.85" stroke-linejoin="round"/>
<polygon points="615.8,277.0 621.9,279.3 626.1,276.8 620.0,274.5" fill="#dbc05f" stroke="#4f410f" stroke-width="0.85" stroke-linejoin="round"/>
<polygon points="631.1,301.1 637.3,303.6 639.8,229.0 633.3,226.8" fill="#5660ba" stroke="#202446" stroke-width="0.85" stroke-linejoin="round"/>
<polygon points="637.3,303.6 641.4,300.9 643.9,226.7 639.8,229.0" fill="#3d4585" stroke="#202446" stroke-width="0.85" stroke-linejoin="round"/>
<polygon points="633.3,226.8 639.8,229.0 643.9,226.7 637.5,224.6" fill="#8087cb" stroke="#202446" stroke-width="0.85" stroke-linejoin="round"/>
<polygon points="647.2,307.6 653.6,310.2 661.7,110.1 654.7,108.5" fill="#784082" stroke="#2d1831" stroke-width="0.85" stroke-linejoin="round"/>
<polygon points="653.6,310.2 657.6,307.4 666.1,108.4 661.7,110.1" fill="#562e5d" stroke="#2d1831" stroke-width="0.85" stroke-linejoin="round"/>
<polygon points="654.7,108.5 661.7,110.1 666.1,108.4 659.0,106.9" fill="#996fa1" stroke="#2d1831" stroke-width="0.85" stroke-linejoin="round"/>
<polygon points="440.9,269.9 445.6,272.0 443.9,240.4 439.1,238.4" fill="#191919" stroke="#090909" stroke-width="0.85" stroke-linejoin="round"/>
<polygon points="445.6,272.0 450.5,269.7 448.9,238.2 443.9,240.4" fill="#121212" stroke="#090909" stroke-width="0.85" stroke-linejoin="round"/>
<polygon points="439.1,238.4 443.9,240.4 448.9,238.2 444.1,236.2" fill="#525252" stroke="#090909" stroke-width="0.85" stroke-linejoin="round"/>
<polygon points="453.2,275.5 458.1,277.7 457.6,268.7 452.7,266.5" fill="#ffa070" stroke="#603c2a" stroke-width="0.85" stroke-linejoin="round"/>
<polygon points="458.1,277.7 462.9,275.3 462.5,266.3 457.6,268.7" fill="#b77350" stroke="#603c2a" stroke-width="0.85" stroke-linejoin="round"/>
<polygon points="452.7,266.5 457.6,268.7 462.5,266.3 457.6,264.2" fill="#ffb793" stroke="#603c2a" stroke-width="0.85" stroke-linejoin="round"/>
<polygon points="465.8,281.2 470.8,283.5 470.4,275.0 465.4,272.8" fill="#fa3e1e" stroke="#5f170b" stroke-width="0.85" stroke-linejoin="round"/>
<polygon points="470.8,283.5 475.7,281.0 475.3,272.6 470.4,275.0" fill="#b42c15" stroke="#5f170b" stroke-width="0.85" stroke-linejoin="round"/>
<polygon points="465.4,272.8 470.4,275.0 475.3,272.6 470.3,270.4" fill="#fb6e56" stroke="#5f170b" stroke-width="0.85" stroke-linejoin="round"/>
<polygon points="478.8,287.1 483.9,289.5 483.6,280.9 478.4,278.6" fill="#ffec55" stroke="#605920" stroke-width="0.85" stroke-linejoin="round"/>
<polygon points="483.9,289.5 488.8,286.9 488.5,278.4 483.6,280.9" fill="#b7a93d" stroke="#605920" stroke-width="0.85" stroke-linejoin="round"/>
<polygon points="478.4,278.6 483.6,280.9 488.5,278.4 483.3,276.1" fill="#fff07f" stroke="#605920" stroke-width="0.85" stroke-linejoin="round"/>
<polygon points="492.1,293.2 497.4,295.6 502.3,293.0 497.0,290.6" fill="#be87c8" stroke="#725178" stroke-width="0.5"/>
<polygon points="505.9,299.5 511.4,302.0 516.2,299.3 510.7,296.8" fill="#3ce1eb" stroke="#24878d" stroke-width="0.5"/>
<polygon points="520.1,305.9 525.7,308.5 530.5,305.7 524.9,303.2" fill="#dcdcdc" stroke="#848484" stroke-width="0.5"/>
<polygon points="534.6,312.6 540.5,315.2 539.7,251.0 533.7,248.7" fill="#b22016" stroke="#430c08" stroke-width="0.85" stroke-linejoin="round"/>
<polygon points="540.5,315.2 545.2,312.4 544.6,248.5 539.7,251.0" fill="#80170f" stroke="#430c08" stroke-width="0.85" stroke-linejoin="round"/>
<polygon points="533.7,248.7 539.7,251.0 544.6,248.5 538.7,246.2" fill="#c55750" stroke="#430c08" stroke-width="0.85" stroke-linejoin="round"/>
<polygon points="549.7,319.4 555.7,322.1 555.6,308.2 549.6,305.6" fill="#167828" stroke="#082d0f" stroke-width="0.85" stroke-linejoin="round"/>
<polygon points="555.7,322.1 560.4,319.2 560.4,305.4 555.6,308.2" fill="#0f561c" stroke="#082d0f" stroke-width="0.85" stroke-linejoin="round"/>
<polygon points="549.6,305.6 555.6,308.2 560.4,305.4 554.4,302.7" fill="#50995d" stroke="#082d0f" stroke-width="0.85" stroke-linejoin="round"/>
<polygon points="565.2,326.5 571.4,329.3 576.1,326.3 570.0,323.5" fill="#d0ac2a" stroke="#7c6719" stroke-width="0.5"/>
<polygon points="581.2,333.8 587.6,336.7 588.3,269.2 581.7,266.6" fill="#5660ba" stroke="#202446" stroke-width="0.85" stroke-linejoin="round"/>
<polygon points="587.6,336.7 592.3,333.6 593.1,266.4 588.3,269.2" fill="#3d4585" stroke="#202446" stroke-width="0.85" stroke-linejoin="round"/>
<polygon points="581.7,266.6 588.3,269.2 593.1,266.4 586.6,263.9" fill="#8087cb" stroke="#202446" stroke-width="0.85" stroke-linejoin="round"/>
<polygon points="597.8,341.3 604.4,344.3 609.0,341.1 602.5,338.1" fill="#bc8ac6" stroke="#705276" stroke-width="0.5"/>
<line x1="605.3" y1="348.5" x2="610.5" y2="66.3" stroke="#333" stroke-width="1.1" stroke-dasharray="1 1.7"/>
<line x1="610.9" y1="344.6" x2="616.4" y2="349.1" stroke="#666" stroke-width="0.8"/>
<line x1="659.7" y1="310.4" x2="665.2" y2="314.9" stroke="#666" stroke-width="0.8"/>
<line x1="702.0" y1="280.8" x2="707.5" y2="285.3" stroke="#666" stroke-width="0.8"/>
<line x1="439.8" y1="272.6" x2="437.3" y2="276.1" stroke="#999" stroke-width="0.7"/>
<line x1="452.2" y1="278.3" x2="449.7" y2="281.8" stroke="#999" stroke-width="0.7"/>
<line x1="464.9" y1="284.1" x2="462.4" y2="287.6" stroke="#999" stroke-width="0.7"/>
<line x1="477.9" y1="290.1" x2="475.4" y2="293.6" stroke="#999" stroke-width="0.7"/>
<line x1="491.4" y1="296.2" x2="488.9" y2="299.7" stroke="#999" stroke-width="0.7"/>
<line x1="505.2" y1="302.6" x2="502.7" y2="306.1" stroke="#999" stroke-width="0.7"/>
<line x1="519.5" y1="309.1" x2="517.0" y2="312.6" stroke="#999" stroke-width="0.7"/>
<line x1="534.2" y1="315.9" x2="531.7" y2="319.4" stroke="#999" stroke-width="0.7"/>
<line x1="549.3" y1="322.8" x2="546.8" y2="326.3" stroke="#999" stroke-width="0.7"/>
<line x1="564.9" y1="330.0" x2="562.4" y2="333.5" stroke="#999" stroke-width="0.7"/>
<line x1="581.1" y1="337.4" x2="578.6" y2="340.9" stroke="#999" stroke-width="0.7"/>
<line x1="597.8" y1="345.1" x2="595.3" y2="348.6" stroke="#999" stroke-width="0.7"/>
<path d="M367.40 613.50L353.75 637.14L326.45 637.14L312.80 613.50L326.45 589.86L353.75 589.86ZM317.64 612.51L328.02 594.54M352.18 594.54L362.56 612.51M329.73 633.44L350.47 633.44M502.60 613.80L488.95 637.44L461.65 637.44L448.00 613.80L461.65 590.16L488.95 590.16ZM464.93 593.86L485.67 593.86M452.84 614.79L463.22 632.76M497.76 614.79L487.38 632.76M632.15 621.00L618.50 644.64L591.20 644.64L577.55 621.00L591.20 597.36L618.50 597.36ZM594.48 601.06L615.22 601.06M582.39 621.99L592.77 639.96M627.31 621.99L616.93 639.96M673.10 597.36L659.45 621.00L632.15 621.00L618.50 597.36L632.15 573.72L659.45 573.72ZM635.43 577.42L656.17 577.42M668.26 598.35L657.88 616.32M781.40 574.60L767.75 598.24L740.45 598.24L726.80 574.60L740.45 550.96L767.75 550.96ZM731.64 573.61L742.02 555.64M766.18 555.64L776.56 573.61M743.73 594.54L764.47 594.54M297.20 613.60L312.80 613.50M367.40 613.50L386.30 614.90M399.59 617.00L420.39 615.80M399.41 614.00L420.21 612.80M433.60 614.90L448.00 613.80M502.60 613.80L522.20 614.90M535.12 617.02L546.92 621.02M536.08 614.18L547.88 618.18M560.60 621.00L577.55 621.00M591.20 597.36L586.60 588.60M591.20 644.64L584.80 655.80M673.10 597.36L687.00 597.36M699.00 590.80L708.60 574.60M708.60 574.60L726.80 574.60M709.57 573.45L701.97 567.05M707.63 575.75L700.03 569.35" fill="none" stroke="#1c1c1c" stroke-width="1.25" stroke-linecap="round" stroke-linejoin="round"/>
<text x="252.4" y="619.0" font-family="'Liberation Serif',serif" font-size="16.2" fill="#1a1a1a">NaO<tspan font-size="11" dy="3.5">3</tspan><tspan dy="-3.5">S</tspan></text>
<text x="538.3" y="668.4" font-family="'Liberation Serif',serif" font-size="16.2" fill="#1a1a1a">SO<tspan font-size="11" dy="3.5">3</tspan><tspan dy="-3.5">Na</tspan></text>
<text x="393.0" y="621.2" font-family="'Liberation Sans',sans-serif" font-size="16.0" fill="#1a1a1a" text-anchor="middle">N</text>
<text x="426.8" y="620.5" font-family="'Liberation Sans',sans-serif" font-size="16.0" fill="#1a1a1a" text-anchor="middle">N</text>
<text x="529.2" y="620.9" font-family="'Liberation Sans',sans-serif" font-size="16.0" fill="#1a1a1a" text-anchor="middle">N</text>
<text x="554.0" y="626.9" font-family="'Liberation Sans',sans-serif" font-size="16.0" fill="#1a1a1a" text-anchor="middle">N</text>
<text x="563.4" y="586.4" font-family="'Liberation Sans',sans-serif" font-size="16.5" fill="#1a1a1a">HO</text>
<text x="688.6" y="603.6" font-family="'Liberation Sans',sans-serif" font-size="16.0" fill="#1a1a1a">NH</text>
<text x="696.4" y="569.6" font-family="'Liberation Sans',sans-serif" font-size="16.0" fill="#1a1a1a" text-anchor="middle">O</text>
<text x="10.8" y="33.0" font-family="'Liberation Sans',sans-serif" font-size="25.0" font-weight="bold" fill="#000">A</text>
<text x="248.2" y="37.0" font-family="'Liberation Sans',sans-serif" font-size="25.0" font-weight="bold" fill="#000" stroke="#000" stroke-width="0.7" textLength="14.2" lengthAdjust="spacingAndGlyphs">B</text>
<text x="248.5" y="567.0" font-family="'Liberation Sans',sans-serif" font-size="20.5" font-weight="bold" fill="#000">C</text>
<text x="68.3" y="26.6" font-family="'Liberation Mono',monospace" font-size="11.3" fill="#111" letter-spacing="-0.35">-1.5</text>
<text x="182.0" y="26.6" font-family="'Liberation Mono',monospace" font-size="11.3" fill="#111" letter-spacing="-0.35">1.5</text>
<text transform="translate(88.5 95.4) rotate(-90.0)" font-family="'Liberation Mono',monospace" font-size="10.9" fill="#111">Dye</text>
<text transform="translate(122.0 95.4) rotate(-90.0)" font-family="'Liberation Mono',monospace" font-size="10.9" fill="#111">CK</text>
<text transform="translate(156.0 95.4) rotate(-90.0)" font-family="'Liberation Mono',monospace" font-size="10.9" fill="#111">Lignin+Dye</text>
<text transform="translate(189.0 95.4) rotate(-90.0)" font-family="'Liberation Mono',monospace" font-size="10.9" fill="#111">Lignin</text>
<text transform="translate(8.8 89.6) rotate(-90.0)" font-family="'Liberation Sans',sans-serif" font-size="8.3" fill="#111">-0.24423313</text>
<text transform="translate(38.2 89.6) rotate(-90.0)" font-family="'Liberation Sans',sans-serif" font-size="8.3" fill="#111">0.37788343</text>
<text transform="translate(68.4 88.8) rotate(-90.0)" font-family="'Liberation Sans',sans-serif" font-size="8.3" fill="#111">1.0</text>
<text x="386.3" y="22.0" font-family="'Liberation Sans',sans-serif" font-size="11.2" fill="#444">Count</text>
<text x="412.3" y="34.8" font-family="'Liberation Sans',sans-serif" font-size="12.0" text-anchor="end" fill="#333">100</text>
<text x="414.8" y="86.9" font-family="'Liberation Sans',sans-serif" font-size="12.0" text-anchor="end" fill="#333">80</text>
<text x="417.3" y="136.2" font-family="'Liberation Sans',sans-serif" font-size="12.0" text-anchor="end" fill="#333">60</text>
<text x="420.3" y="183.8" font-family="'Liberation Sans',sans-serif" font-size="12.0" text-anchor="end" fill="#333">40</text>
<text x="425.6" y="230.4" font-family="'Liberation Sans',sans-serif" font-size="12.0" text-anchor="end" fill="#333">20</text>
<text x="428.3" y="273.6" font-family="'Liberation Sans',sans-serif" font-size="12.0" text-anchor="end" fill="#777">0</text>
<text x="709.0" y="287.4" font-family="'Liberation Serif',serif" font-size="10.5" fill="#111">Lignin v.s. CK</text>
<text x="670.9" y="317.2" font-family="'Liberation Serif',serif" font-size="10.5" fill="#111">Lignin+Dye v.s. CK</text>
<text x="622.6" y="349.0" font-family="'Liberation Serif',serif" font-size="10.5" fill="#111">Dye v.s. CK</text>
<text transform="translate(433.0 279.6) rotate(-32.7)" font-family="'Liberation Mono',monospace" font-size="11.8" text-anchor="end" fill="#1e1e1e">monosacharide metabolic process</text>
<text transform="translate(447.3 286.2) rotate(-32.9)" font-family="'Liberation Mono',monospace" font-size="11.8" text-anchor="end" fill="#1e1e1e">amino sugar metabolic process</text>
<text transform="translate(461.6 292.9) rotate(-33.1)" font-family="'Liberation Mono',monospace" font-size="11.8" text-anchor="end" fill="#1e1e1e">glucosamine metabolic process</text>
<text transform="translate(475.9 299.6) rotate(-33.3)" font-family="'Liberation Mono',monospace" font-size="11.8" text-anchor="end" fill="#1e1e1e">N-acetyl glucosamine metabolic process</text>
<text transform="translate(490.2 306.2) rotate(-33.5)" font-family="'Liberation Mono',monospace" font-size="11.8" text-anchor="end" fill="#1e1e1e">serine family amino acid metabolic process</text>
<text transform="translate(504.5 312.9) rotate(-33.7)" font-family="'Liberation Mono',monospace" font-size="11.8" text-anchor="end" fill="#1e1e1e">amine biosynthetic process</text>
<text transform="translate(518.8 319.5) rotate(-33.9)" font-family="'Liberation Mono',monospace" font-size="11.8" text-anchor="end" fill="#1e1e1e">transcriptional regulation of gene expression</text>
<text transform="translate(533.1 326.2) rotate(-34.1)" font-family="'Liberation Mono',monospace" font-size="11.8" text-anchor="end" fill="#1e1e1e">organic acid biosynthetic process</text>
<text transform="translate(547.4 332.8) rotate(-34.3)" font-family="'Liberation Mono',monospace" font-size="11.8" text-anchor="end" fill="#1e1e1e">pentose metabolic process</text>
<text transform="translate(561.7 339.5) rotate(-34.5)" font-family="'Liberation Mono',monospace" font-size="11.8" text-anchor="end" fill="#1e1e1e">aromatic compound catabolic process</text>
<text transform="translate(576.0 346.1) rotate(-34.7)" font-family="'Liberation Mono',monospace" font-size="11.8" text-anchor="end" fill="#1e1e1e">carboxylic acid biosynthetic process</text>
<text transform="translate(590.3 352.8) rotate(-34.9)" font-family="'Liberation Mono',monospace" font-size="11.8" text-anchor="end" fill="#1e1e1e">oxidation reduction</text></svg></body></html>
